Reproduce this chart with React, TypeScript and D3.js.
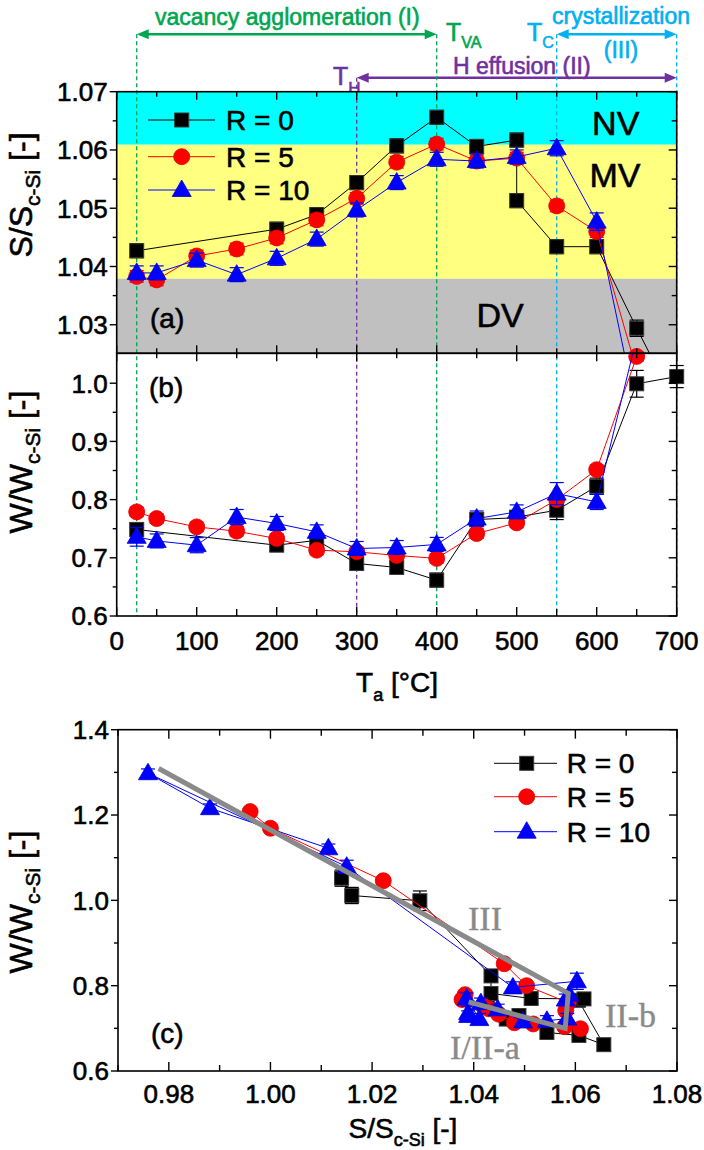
import React from 'react';
import * as d3 from 'd3';

const FONT = "'Liberation Sans', Arial, sans-serif";
const SERIF = "'Liberation Serif', 'Times New Roman', serif";

const GREEN = '#00a651';
const PURPLE = '#7030a0';
const CYAN = '#00b0f0';
const GUIDE = '#8a8a8a';

// annealing temperatures [°C]
const tempR0 = [25, 200, 250, 300, 350, 400, 450, 500, 500, 550, 600, 650, 700];
const tempR5 = [25, 50, 100, 150, 200, 250, 300, 350, 400, 450, 500, 550, 600, 650, 700];
const tempR10 = [25, 50, 100, 150, 200, 250, 300, 350, 400, 450, 500, 550, 600, 650, 700];

// S/S_c-Si
const sR0 = [1.0427, 1.0464, 1.0489, 1.0544, 1.0607, 1.0656, 1.0606, 1.0617, 1.0513, 1.0434, 1.0434, 1.0294, 1.016];
const sR5 = [1.0383, 1.0377, 1.0418, 1.043, 1.0449, 1.048, 1.0517, 1.0579, 1.061, 1.0581, 1.0586, 1.0504, 1.046, 1.0222, 1.0];
const sR10 = [1.0389, 1.0389, 1.0411, 1.0386, 1.0414, 1.0447, 1.0497, 1.0544, 1.0584, 1.0581, 1.0588, 1.0603, 1.0477, 1.015, 0.9759];

// W/W_c-Si
const wR0 = [0.7486, 0.7217, 0.73, 0.6903, 0.6834, 0.6617, 0.7657, 0.769, 0.77, 0.7817, 0.8229, 0.999, 1.0114];
const wR5 = [0.7789, 0.7674, 0.7531, 0.7457, 0.7331, 0.7131, 0.7103, 0.704, 0.699, 0.7417, 0.76, 0.8, 0.8514, 1.046, 1.169];
const wR10 = [0.736, 0.729, 0.7217, 0.77, 0.759, 0.7446, 0.716, 0.7177, 0.723, 0.7674, 0.7789, 0.8103, 0.796, 1.079, 1.298];

// error bars
const errSR0 = [0.0012, 0.0012, 0.0012, 0.0012, 0.0012, 0.0012, 0.0012, 0.0012, 0.0012, 0.0012, 0.0012, 0.0014, 0.0012];
const errSR5 = [0.001, 0.001, 0.001, 0.001, 0.001, 0.001, 0.001, 0.001, 0.001, 0.001, 0.001, 0.001, 0.001, 0.001, 0.001];
const errSR10 = [0.0012, 0.0012, 0.0012, 0.0012, 0.0012, 0.0012, 0.0012, 0.0012, 0.0012, 0.0012, 0.0012, 0.0013, 0.0015, 0.0012, 0.0012];
const errWR0 = [0.012, 0.01, 0.01, 0.012, 0.01, 0.012, 0.012, 0.01, 0.01, 0.016, 0.014, 0.023, 0.019];
const errWR5 = [0.008, 0.008, 0.008, 0.008, 0.008, 0.008, 0.008, 0.008, 0.008, 0.008, 0.008, 0.008, 0.008, 0.008, 0.008];
const errWR10 = [0.016, 0.012, 0.013, 0.013, 0.012, 0.012, 0.012, 0.012, 0.012, 0.013, 0.012, 0.019, 0.013, 0.015, 0.01];

// points of panel (c) that have no temperature of their own
const extraSR0 = [1.014];
const extraWR0 = [1.052];
const extraSR5 = [0.996];
const extraWR5 = [1.208];
const extraSR10 = [0.9881, 1.0114];
const extraWR10 = [1.216, 1.122];

// grey guide in (c)
const guideS = [0.978, 1.0586, 1.058, 1.039];
const guideW = [1.309, 0.782, 0.7, 0.762];

// ticks
const tMajor = [0, 100, 200, 300, 400, 500, 600, 700];
const tMinor = [50, 150, 250, 350, 450, 550, 650];
const aMajor = [1.03, 1.04, 1.05, 1.06, 1.07];
const aMinor = [1.035, 1.045, 1.055, 1.065];
const bMajor = [0.6, 0.7, 0.8, 0.9, 1.0];
const bMinor = [0.65, 0.75, 0.85, 0.95];
const cxMajor = [0.98, 1.0, 1.02, 1.04, 1.06, 1.08];
const cxMinor = [0.97, 0.99, 1.01, 1.03, 1.05, 1.07];
const cyMajor = [0.6, 0.8, 1.0, 1.2, 1.4];
const cyMinor = [0.7, 0.9, 1.1, 1.3];

const series = [
  { label: 'R = 0', shape: 'square', color: '#000000', T: tempR0, S: sR0, W: wR0, eS: errSR0, eW: errWR0, xs: extraSR0, xw: extraWR0 },
  { label: 'R = 5', shape: 'circle', color: '#ff0000', T: tempR5, S: sR5, W: wR5, eS: errSR5, eW: errWR5, xs: extraSR5, xw: extraWR5 },
  { label: 'R = 10', shape: 'triangle', color: '#0000ff', T: tempR10, S: sR10, W: wR10, eS: errSR10, eW: errWR10, xs: extraSR10, xw: extraWR10 },
];

const xT = d3.scaleLinear().domain([0, 700]).range([116.7, 676.7]);
const yA = d3.scaleLinear().domain([1.0251, 1.07]).range([353.3, 91.7]);
const yB = d3.scaleLinear().domain([0.6, 1.0514]).range([616, 353.3]);
const xC = d3.scaleLinear().domain([0.97, 1.08]).range([118, 677]);
const yC = d3.scaleLinear().domain([0.6, 1.4]).range([1071, 729.7]);

const line = d3.line<[number, number]>().x(d => d[0]).y(d => d[1]);

function Marker({ shape, x, y }: { shape: string; x: number; y: number }) {
  if (shape === 'square') {
    return <rect x={x - 7} y={y - 7} width={14} height={14} fill="#000" stroke="#3a3a3a" strokeWidth={1} />;
  }
  if (shape === 'circle') {
    return <circle cx={x} cy={y} r={8} fill="#ff0000" stroke="#e00000" strokeWidth={0.8} />;
  }
  return <polygon points={`${x},${y - 10} ${x - 9.5},${y + 6.5} ${x + 9.5},${y + 6.5}`} fill="#0000ff" stroke="#0000d0" strokeWidth={0.8} />;
}

function ErrBar({ x, y1, y2, color }: { x: number; y1: number; y2: number; color: string }) {
  return (
    <g stroke={color} strokeWidth={1.2}>
      <line x1={x} x2={x} y1={y1} y2={y2} />
      <line x1={x - 7} x2={x + 7} y1={y1} y2={y1} />
      <line x1={x - 7} x2={x + 7} y1={y2} y2={y2} />
    </g>
  );
}

function Arrow({ x1, x2, y, color }: { x1: number; x2: number; y: number; color: string }) {
  const h = 12;
  const w = 5;
  return (
    <g>
      <line x1={x1 + h - 2} x2={x2 - h + 2} y1={y} y2={y} stroke={color} strokeWidth={2.6} />
      <polygon points={`${x1},${y} ${x1 + h},${y - w} ${x1 + h},${y + w}`} fill={color} />
      <polygon points={`${x2},${y} ${x2 - h},${y - w} ${x2 - h},${y + w}`} fill={color} />
    </g>
  );
}

function Frame({ x0, x1, y0, y1 }: { x0: number; x1: number; y0: number; y1: number }) {
  return <rect x={x0} y={y0} width={x1 - x0} height={y1 - y0} fill="none" stroke="#000" strokeWidth={1.6} />;
}

export default function App() {
  const L = 116.7;
  const R = 676.7;
  const aTop = 91.7;
  const mid = 353.3;
  const bBot = 616;
  const cL = 118;
  const cR = 677;
  const cTop = 729.7;
  const cBot = 1071;

  const vlines = [
    { t: 25, top: 34.3, color: GREEN },
    { t: 400, top: 34.3, color: GREEN },
    { t: 300, top: 77.7, color: PURPLE },
    { t: 550, top: 34.3, color: CYAN },
    { t: 700, top: 34.3, color: CYAN },
  ];

  const guidePts: [number, number][] = guideS.map((s, i) => [xC(s), yC(guideW[i])]);
  const bold = 0.6;

  return (
    <svg width={704} height={1150} style={{ position: 'absolute', left: 0, top: 0, background: '#fff' }} fontFamily={FONT}>
      <defs>
        <clipPath id="clipA"><rect x={L} y={aTop} width={R - L} height={mid - aTop} /></clipPath>
        <clipPath id="clipB"><rect x={L} y={mid} width={R - L} height={bBot - mid} /></clipPath>
        <clipPath id="clipC"><rect x={cL} y={cTop} width={cR - cL} height={cBot - cTop} /></clipPath>
      </defs>

      {/* annotations above (a) */}
      <g fill={GREEN} stroke={GREEN} strokeWidth={bold}>
        <text x={155} y={25} fontSize={23}>vacancy agglomeration (I)</text>
        <text x={446} y={41} fontSize={25}>T<tspan dy={7} fontSize={16}>VA</tspan></text>
      </g>
      <Arrow x1={xT(25)} x2={xT(400)} y={34.3} color={GREEN} />
      <g fill={CYAN} stroke={CYAN} strokeWidth={bold}>
        <text x={527} y={41} fontSize={25}>T<tspan dy={7} fontSize={16}>C</tspan></text>
        <text x={552} y={24} fontSize={23}>crystallization</text>
        <text x={621} y={58} fontSize={23} textAnchor="middle">(III)</text>
      </g>
      <Arrow x1={xT(550)} x2={xT(700)} y={34.3} color={CYAN} />
      <g fill={PURPLE} stroke={PURPLE} strokeWidth={bold}>
        <text x={453} y={74} fontSize={23}>H effusion (II)</text>
        <text x={333} y={85} fontSize={25}>T<tspan dy={9} fontSize={17}>H</tspan></text>
      </g>
      <Arrow x1={xT(300)} x2={xT(700)} y={77.7} color={PURPLE} />

      {/* bands in (a) */}
      <rect x={L} y={yA(1.07)} width={R - L} height={yA(1.0609) - yA(1.07)} fill="#00ffff" />
      <rect x={L} y={yA(1.0609)} width={R - L} height={yA(1.0379) - yA(1.0609)} fill="#ffff80" />
      <rect x={L} y={yA(1.0379)} width={R - L} height={mid - yA(1.0379)} fill="#c0c0c0" />
      <g fill="#000" stroke="#000" strokeWidth={bold}>
        <text x={615.7} y={135} fontSize={34} textAnchor="middle">NV</text>
        <text x={615} y={187} fontSize={34} textAnchor="middle">MV</text>
        <text x={500} y={327} fontSize={34} textAnchor="middle">DV</text>
        <text x={150} y={328} fontSize={28}>(a)</text>
        <text x={149} y={397} fontSize={28}>(b)</text>
      </g>

      {/* dashed markers of the temperature regimes */}
      {vlines.map((v, i) => (
        <line key={i} x1={xT(v.t)} x2={xT(v.t)} y1={v.top} y2={bBot} stroke={v.color} strokeWidth={1.3} strokeDasharray="4,3" />
      ))}

      {/* series in (a) and (b) */}
      {series.map(s => {
        const ptsA: [number, number][] = s.T.map((t, i) => [xT(t), yA(s.S[i])]);
        const ptsB: [number, number][] = s.T.map((t, i) => [xT(t), yB(s.W[i])]);
        return (
          <g key={s.label}>
            <path d={line(ptsA) || ''} fill="none" stroke={s.color} strokeWidth={1} clipPath="url(#clipA)" />
            {s.T.map((t, i) => s.S[i] >= 1.0251 && s.S[i] <= 1.07 ? (
              <g key={i}>
                <ErrBar x={xT(t)} y1={yA(s.S[i] + s.eS[i])} y2={yA(s.S[i] - s.eS[i])} color={s.color} />
                <Marker shape={s.shape} x={xT(t)} y={yA(s.S[i])} />
              </g>
            ) : null)}
            <path d={line(ptsB) || ''} fill="none" stroke={s.color} strokeWidth={1} clipPath="url(#clipB)" />
            {s.T.map((t, i) => s.W[i] <= 1.0514 ? (
              <g key={'b' + i}>
                <ErrBar x={xT(t)} y1={yB(s.W[i] + s.eW[i])} y2={yB(s.W[i] - s.eW[i])} color={s.color} />
                <Marker shape={s.shape} x={xT(t)} y={yB(s.W[i])} />
              </g>
            ) : null)}
          </g>
        );
      })}

      {/* frames and ticks (a), (b) */}
      <Frame x0={L} x1={R} y0={aTop} y1={mid} />
      <Frame x0={L} x1={R} y0={mid} y1={bBot} />
      <g stroke="#000" strokeWidth={1.4}>
        {tMajor.map(t => (
          <g key={'tM' + t}>
            <line x1={xT(t)} x2={xT(t)} y1={aTop} y2={aTop + 8} />
            <line x1={xT(t)} x2={xT(t)} y1={mid - 8} y2={mid + 8} />
            <line x1={xT(t)} x2={xT(t)} y1={bBot} y2={bBot - 9} />
          </g>
        ))}
        {tMinor.map(t => (
          <g key={'tm' + t}>
            <line x1={xT(t)} x2={xT(t)} y1={aTop} y2={aTop + 5} />
            <line x1={xT(t)} x2={xT(t)} y1={mid - 5} y2={mid + 5} />
            <line x1={xT(t)} x2={xT(t)} y1={bBot} y2={bBot - 7} />
          </g>
        ))}
        {aMajor.map(v => (
          <g key={'aM' + v}>
            <line x1={L - 7} x2={L} y1={yA(v)} y2={yA(v)} />
            <line x1={R - 8} x2={R} y1={yA(v)} y2={yA(v)} />
          </g>
        ))}
        {aMinor.map(v => (
          <g key={'am' + v}>
            <line x1={L - 4} x2={L} y1={yA(v)} y2={yA(v)} />
            <line x1={R - 5} x2={R} y1={yA(v)} y2={yA(v)} />
          </g>
        ))}
        {bMajor.map(v => (
          <g key={'bM' + v}>
            <line x1={L - 7} x2={L} y1={yB(v)} y2={yB(v)} />
            <line x1={R - 8} x2={R} y1={yB(v)} y2={yB(v)} />
          </g>
        ))}
        {bMinor.map(v => (
          <g key={'bm' + v}>
            <line x1={L - 4} x2={L} y1={yB(v)} y2={yB(v)} />
            <line x1={R - 5} x2={R} y1={yB(v)} y2={yB(v)} />
          </g>
        ))}
      </g>
      <g fontSize={26} fill="#000" stroke="#000" strokeWidth={bold}>
        {aMajor.map(v => <text key={'al' + v} x={L - 9} y={yA(v)} dy="0.36em" textAnchor="end">{v.toFixed(2)}</text>)}
        {bMajor.map(v => <text key={'bl' + v} x={L - 9} y={yB(v)} dy="0.36em" textAnchor="end">{v.toFixed(1)}</text>)}
        {tMajor.map(t => <text key={'tl' + t} x={xT(t)} y={bBot + 34} textAnchor="middle">{t}</text>)}
      </g>
      <g fill="#000" stroke="#000" strokeWidth={bold}>
        <text x={397} y={691.7} fontSize={28} textAnchor="middle">T<tspan dy={9} fontSize={18}>a</tspan><tspan dy={-9}> [°C]</tspan></text>
        <text transform="translate(32,195) rotate(-90)" fontSize={32} textAnchor="middle">S/S<tspan dy={8} fontSize={21}>c-Si</tspan><tspan dy={-8}> [-]</tspan></text>
        <text transform="translate(32,462) rotate(-90)" fontSize={32} textAnchor="middle">W/W<tspan dy={8} fontSize={21}>c-Si</tspan><tspan dy={-8}> [-]</tspan></text>
      </g>

      {/* legend (a) */}
      {series.map((s, i) => {
        const y = [120, 156.7, 190][i];
        return (
          <g key={'la' + i}>
            <line x1={148} x2={215} y1={y} y2={y} stroke={s.color} strokeWidth={1} />
            <Marker shape={s.shape} x={181.7} y={y} />
            <text x={226} y={y + 10} fontSize={28} fill="#000" stroke="#000" strokeWidth={bold}>{s.label}</text>
          </g>
        );
      })}

      {/* panel (c) */}
      {series.map(s => {
        const pts: [number, number][] = [
          ...s.S.map((v, i) => [xC(v), yC(s.W[i])] as [number, number]),
          ...s.xs.map((v, i) => [xC(v), yC(s.xw[i])] as [number, number]),
        ];
        const errs = [...s.eW, ...s.xs.map(() => s.eW[s.eW.length - 1])];
        const ws = [...s.W, ...s.xw];
        return (
          <g key={'c' + s.label}>
            <path d={line(pts) || ''} fill="none" stroke={s.color} strokeWidth={1} clipPath="url(#clipC)" />
            {pts.map((p, i) => (
              <g key={i}>
                <ErrBar x={p[0]} y1={yC(ws[i] + errs[i])} y2={yC(ws[i] - errs[i])} color={s.color} />
                <Marker shape={s.shape} x={p[0]} y={p[1]} />
              </g>
            ))}
          </g>
        );
      })}
      <path d={line(guidePts) || ''} fill="none" stroke={GUIDE} strokeWidth={5} strokeLinejoin="miter" />
      <g fontFamily={SERIF} fontSize={34} fill={GUIDE} stroke={GUIDE} strokeWidth={0.4}>
        <text x={468} y={930}>III</text>
        <text x={605} y={1027}>II-b</text>
        <text x={450} y={1059}>I/II-a</text>
      </g>
      <text x={151} y={1043} fontSize={28} fill="#000" stroke="#000" strokeWidth={bold}>(c)</text>

      <Frame x0={cL} x1={cR} y0={cTop} y1={cBot} />
      <g stroke="#000" strokeWidth={1.4}>
        {cxMajor.map(v => (
          <g key={'cxM' + v}>
            <line x1={xC(v)} x2={xC(v)} y1={cBot} y2={cBot - 9} />
            <line x1={xC(v)} x2={xC(v)} y1={cTop} y2={cTop + 9} />
          </g>
        ))}
        {cxMinor.map(v => (
          <g key={'cxm' + v}>
            <line x1={xC(v)} x2={xC(v)} y1={cBot} y2={cBot - 6} />
            <line x1={xC(v)} x2={xC(v)} y1={cTop} y2={cTop + 6} />
          </g>
        ))}
        {cyMajor.map(v => (
          <g key={'cyM' + v}>
            <line x1={cL - 7} x2={cL} y1={yC(v)} y2={yC(v)} />
            <line x1={cR - 8} x2={cR} y1={yC(v)} y2={yC(v)} />
          </g>
        ))}
        {cyMinor.map(v => (
          <g key={'cym' + v}>
            <line x1={cL - 4} x2={cL} y1={yC(v)} y2={yC(v)} />
            <line x1={cR - 5} x2={cR} y1={yC(v)} y2={yC(v)} />
          </g>
        ))}
      </g>
      <g fontSize={26} fill="#000" stroke="#000" strokeWidth={bold}>
        {cxMajor.map(v => <text key={'cxl' + v} x={xC(v)} y={cBot + 32} textAnchor="middle">{v.toFixed(2)}</text>)}
        {cyMajor.map(v => <text key={'cyl' + v} x={cL - 9} y={yC(v)} dy="0.36em" textAnchor="end">{v.toFixed(1)}</text>)}
      </g>
      <g fill="#000" stroke="#000" strokeWidth={bold}>
        <text x={403} y={1138} fontSize={28} textAnchor="middle">S/S<tspan dy={8} fontSize={18}>c-Si</tspan><tspan dy={-8}> [-]</tspan></text>
        <text transform="translate(32,902) rotate(-90)" fontSize={32} textAnchor="middle">W/W<tspan dy={8} fontSize={21}>c-Si</tspan><tspan dy={-8}> [-]</tspan></text>
      </g>

      {/* legend (c) */}
      {series.map((s, i) => {
        const y = [763.3, 796.7, 831.7][i];
        return (
          <g key={'lc' + i}>
            <line x1={494} x2={557} y1={y} y2={y} stroke={s.color} strokeWidth={1} />
            <Marker shape={s.shape} x={526.7} y={y} />
            <text x={566.7} y={y + 10} fontSize={28} fill="#000" stroke="#000" strokeWidth={bold}>{s.label}</text>
          </g>
        );
      })}
    </svg>
  );
}
